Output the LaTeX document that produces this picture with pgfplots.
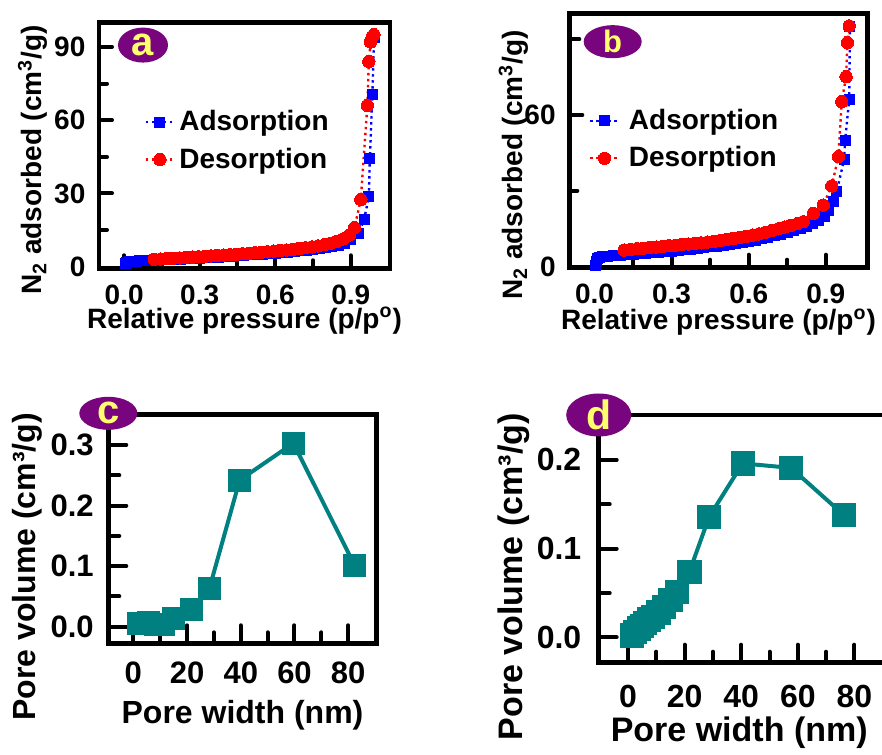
\documentclass[border=0pt]{standalone}
\usepackage{pgfplots}
\pgfplotsset{compat=1.18}
\usepackage{fontspec}
\setmainfont{Liberation Sans}
\definecolor{tealc}{RGB}{0,128,128}
\definecolor{lblpurple}{RGB}{120,5,125}
\definecolor{lblyellow}{RGB}{255,255,110}
\newcommand{\fs}[1]{\fontsize{#1}{#1}\selectfont\bfseries}
\tikzset{tk/.style={line width=2pt, black, line cap=round}}
\pgfplotsset{
  myaxis/.style={
    scale only axis, anchor=south west,
    axis line style={line width=2.4pt},
    major tick length=0pt, minor tick length=0pt,
    /pgf/number format/assume math mode=true,
    scaled ticks=false,
  },
  onedec/.style={/pgf/number format/fixed, /pgf/number format/fixed zerofill, /pgf/number format/precision=1},
  iso/.style={
    legend cell align=left,
    legend image code/.code={\draw[mark repeat=2,mark phase=2,##1] plot coordinates {(0cm,0cm) (0.25cm,0cm) (0.5cm,0cm)};},
    legend style={draw=none, fill=none, anchor=north west, inner sep=0pt, font=\fs{14}, row sep=3pt},
    xticklabel style={onedec},
    xtick={0,0.3,0.6,0.9},
    tick label style={font=\fs{14}},
    xticklabel style={yshift=-4.8pt},
    yticklabel style={xshift=-3.3pt},
    label style={font=\fs{14}},
    xlabel={Relative pressure (p/p\textsuperscript{o})},
    ylabel={N\textsubscript{2} adsorbed (cm\textsuperscript{3}/g)},
  },
  ads/.style={blue, line width=1.2pt, dash pattern=on 1.2pt off 1.8pt, mark=square*, mark size=2.5pt, mark options={solid, fill=blue, draw=blue, line width=0pt}},
  des/.style={red, line width=1.2pt, dash pattern=on 1.2pt off 1.8pt, mark=*, mark size=3.1pt, mark options={solid, fill=red, draw=red, line width=0pt}},
  psd/.style={tealc, line width=2pt, mark=square*, mark options={fill=tealc, draw=tealc, line width=0pt}},
}
\begin{document}
\begin{tikzpicture}
\useasboundingbox (0,0) rectangle (441pt,377pt);

% ---------------- (a)
\begin{axis}[myaxis, iso, name=A, at={(49.5pt,242.85pt)},
  width=145.5pt, height=122.8pt,
  xmin=-0.1, xmax=1.056, ymin=-0.65, ymax=99.9,
  ytick={0,30,60,90},
  xlabel style={at={(axis description cs:0.5,-0.244)}, anchor=base},
  ylabel style={at={(axis description cs:-0.196,0.441)}, anchor=base},
  legend style={at={(axis description cs:0.155,0.66)}},
]
% ticks (inside, bottom and left only)
\draw[tk] (axis cs:0,-0.65) -- ++(0pt,6.5pt);
\draw[tk] (axis cs:0.3,-0.65) -- ++(0pt,6.5pt);
\draw[tk] (axis cs:0.6,-0.65) -- ++(0pt,6.5pt);
\draw[tk] (axis cs:0.9,-0.65) -- ++(0pt,6.5pt);
\draw[tk] (axis cs:0.15,-0.65) -- ++(0pt,4pt);
\draw[tk] (axis cs:0.45,-0.65) -- ++(0pt,4pt);
\draw[tk] (axis cs:0.75,-0.65) -- ++(0pt,4pt);
\draw[tk] (axis cs:-0.1,30) -- ++(6.5pt,0pt);
\draw[tk] (axis cs:-0.1,60) -- ++(6.5pt,0pt);
\draw[tk] (axis cs:-0.1,90) -- ++(6.5pt,0pt);
\draw[tk] (axis cs:-0.1,15) -- ++(4pt,0pt);
\draw[tk] (axis cs:-0.1,45) -- ++(4pt,0pt);
\draw[tk] (axis cs:-0.1,75) -- ++(4pt,0pt);
\addplot[ads] coordinates {
(0.005,1.5)(0.01,1.8)(0.02,2.0)(0.03,2.1)(0.04,2.2)(0.05,2.3)(0.06,2.35)(0.07,2.4)(0.08,2.45)(0.09,2.5)
(0.10,2.6)(0.125,2.7)(0.15,2.8)(0.175,2.9)(0.20,3.0)(0.225,3.1)(0.25,3.25)(0.275,3.35)(0.30,3.5)
(0.325,3.65)(0.35,3.8)(0.375,3.95)(0.40,4.1)(0.425,4.25)(0.45,4.4)(0.475,4.6)(0.50,4.8)(0.525,5.0)
(0.55,5.2)(0.575,5.4)(0.60,5.6)(0.625,5.8)(0.65,6.0)(0.675,6.25)(0.70,6.5)(0.725,6.8)(0.75,7.1)
(0.775,7.4)(0.80,7.8)(0.825,8.3)(0.85,8.8)(0.875,9.7)(0.90,11.0)(0.93,13.5)(0.953,19.2)(0.972,28.8)
(0.976,44.4)(0.986,70.3)(0.993,94.0)};
\addlegendentry{Adsorption}
\addplot[des] coordinates {
(0.12,3.0)(0.145,3.15)(0.17,3.3)(0.195,3.45)(0.22,3.6)(0.245,3.75)(0.27,3.9)(0.295,4.05)(0.32,4.2)
(0.345,4.4)(0.37,4.55)(0.395,4.75)(0.42,4.9)(0.445,5.1)(0.47,5.3)(0.495,5.5)(0.52,5.7)(0.545,5.9)
(0.57,6.1)(0.595,6.35)(0.62,6.6)(0.645,6.85)(0.67,7.1)(0.695,7.4)(0.72,7.75)(0.745,8.1)(0.77,8.5)
(0.795,9.0)(0.82,9.6)(0.845,10.4)(0.87,11.4)(0.895,13.0)(0.915,16.0)(0.94,27.5)(0.966,66.0)
(0.972,84.0)(0.979,92.0)(0.985,94.0)(0.992,95.0)};
\addlegendentry{Desorption}
\end{axis}
\fill[lblpurple] ([shift={(22pt,-11.2pt)}]A.north west) ellipse [x radius=12.5pt, y radius=8.75pt];
\node[text=lblyellow, font=\fs{20}, inner sep=0pt] at ([shift={(22pt,-11.2pt)}]A.north west) {a};

% ---------------- (b)
\begin{axis}[myaxis, iso, name=B, at={(284.65pt,243.15pt)},
  width=149.2pt, height=127.2pt,
  xmin=-0.098, xmax=1.063, ymin=-0.5, ymax=100.3,
  ytick={0,60},
  xlabel style={at={(axis description cs:0.5,-0.244)}, anchor=base},
  ylabel style={at={(axis description cs:-0.156,0.404)}, anchor=base},
  legend style={at={(axis description cs:0.065,0.64)}, nodes={inner xsep=4.5pt}},
]
\draw[tk] (axis cs:0,-0.5) -- ++(0pt,6.5pt);
\draw[tk] (axis cs:0.3,-0.5) -- ++(0pt,6.5pt);
\draw[tk] (axis cs:0.6,-0.5) -- ++(0pt,6.5pt);
\draw[tk] (axis cs:0.9,-0.5) -- ++(0pt,6.5pt);
\draw[tk] (axis cs:0.15,-0.5) -- ++(0pt,4pt);
\draw[tk] (axis cs:0.45,-0.5) -- ++(0pt,4pt);
\draw[tk] (axis cs:0.75,-0.5) -- ++(0pt,4pt);
\draw[tk] (axis cs:-0.098,60) -- ++(6.5pt,0pt);
\draw[tk] (axis cs:-0.098,90) -- ++(5pt,0pt);
\draw[tk] (axis cs:-0.098,30) -- ++(4pt,0pt);
\addplot[ads] coordinates {
(0.003,0.5)(0.006,2.0)(0.01,3.0)(0.02,3.6)(0.03,3.9)(0.05,4.1)(0.075,4.3)(0.10,4.5)(0.125,4.7)
(0.15,4.9)(0.175,5.1)(0.2,5.3)(0.225,5.5)(0.25,5.7)(0.275,5.9)(0.3,6.1)(0.325,6.35)(0.35,6.6)
(0.375,6.85)(0.4,7.1)(0.425,7.4)(0.45,7.7)(0.475,8.0)(0.5,8.35)(0.525,8.7)(0.55,9.05)(0.575,9.45)
(0.6,9.9)(0.625,10.4)(0.65,10.9)(0.675,11.5)(0.7,12.1)(0.725,12.8)(0.75,13.5)(0.775,14.3)(0.8,15.1)
(0.825,16.0)(0.85,17.0)(0.87,18.2)(0.893,19.7)(0.91,22.0)(0.929,25.6)(0.942,29.6)(0.971,42.2)
(0.975,49.8)(0.991,66.2)(0.994,95.0)};
\addlegendentry{Adsorption}
\addplot[des] coordinates {
(0.115,6.5)(0.14,6.75)(0.165,7.0)(0.19,7.2)(0.215,7.45)(0.24,7.65)(0.265,7.9)(0.29,8.2)(0.315,8.4)
(0.34,8.65)(0.365,8.9)(0.39,9.1)(0.415,9.35)(0.44,9.65)(0.465,9.95)(0.49,10.3)(0.515,10.65)
(0.54,11.0)(0.565,11.45)(0.59,11.9)(0.615,12.4)(0.64,12.9)(0.665,13.5)(0.69,14.2)(0.715,14.9)
(0.74,15.6)(0.765,16.3)(0.79,17.0)(0.812,17.7)(0.851,21.0)(0.89,24.3)(0.923,31.9)(0.949,43.5)
(0.962,65.3)(0.979,75.2)(0.984,88.7)(0.991,95.3)};
\addlegendentry{Desorption}
\end{axis}
\fill[lblpurple] ([shift={(21.7pt,-14.2pt)}]B.north west) ellipse [x radius=14.5pt, y radius=8.25pt];
\node[text=lblyellow, font=\fs{15.5}, inner sep=0pt] at ([shift={(21.7pt,-14.2pt)}]B.north west) {b};

% ---------------- (c)
\begin{axis}[myaxis, name=C, at={(54.15pt,55.35pt)},
  width=134.2pt, height=114.5pt,
  xmin=-9.3, xmax=90.6, ymin=-0.0274, ymax=0.3507,
  xtick={0,20,40,60,80},
  ytick={0,0.1,0.2,0.3},
  yticklabel style={onedec},
  tick label style={font=\fs{15.5}},
  xticklabel style={yshift=-5.8pt},
  yticklabel style={xshift=-3.8pt},
  label style={font=\fs{16}},
  xlabel={Pore width (nm)},
  ylabel={Pore volume (cm³/g)},
  xlabel style={at={(axis description cs:0.5,-0.349)}, anchor=base},
  ylabel style={at={(axis description cs:-0.273,0.334)}, anchor=base},
]
\draw[tk] (axis cs:0,-0.0274) -- ++(0pt,9pt);
\draw[tk] (axis cs:20,-0.0274) -- ++(0pt,9pt);
\draw[tk] (axis cs:40,-0.0274) -- ++(0pt,9pt);
\draw[tk] (axis cs:60,-0.0274) -- ++(0pt,9pt);
\draw[tk] (axis cs:80,-0.0274) -- ++(0pt,9pt);
\draw[tk] (axis cs:10,-0.0274) -- ++(0pt,5.5pt);
\draw[tk] (axis cs:30,-0.0274) -- ++(0pt,5.5pt);
\draw[tk] (axis cs:50,-0.0274) -- ++(0pt,5.5pt);
\draw[tk] (axis cs:70,-0.0274) -- ++(0pt,5.5pt);
\draw[tk] (axis cs:-9.3,0) -- ++(9pt,0pt);
\draw[tk] (axis cs:-9.3,0.1) -- ++(9pt,0pt);
\draw[tk] (axis cs:-9.3,0.2) -- ++(9pt,0pt);
\draw[tk] (axis cs:-9.3,0.3) -- ++(9pt,0pt);
\draw[tk] (axis cs:-9.3,0.05) -- ++(5.5pt,0pt);
\draw[tk] (axis cs:-9.3,0.15) -- ++(5.5pt,0pt);
\draw[tk] (axis cs:-9.3,0.25) -- ++(5.5pt,0pt);
\addplot[psd, mark size=5.5pt] coordinates {
(1.9,0.006)(5.6,0.007)(8.3,0.003)(11.2,0.004)(14.9,0.013)(21.7,0.028)(28.3,0.063)
(39.6,0.242)(59.6,0.303)(82.4,0.101)};
\end{axis}
\fill[lblpurple] ([shift={(0pt,0.5pt)}]C.north west) ellipse [x radius=14.5pt, y radius=8.25pt];
\node[text=lblyellow, font=\fs{20}, inner sep=0pt] at ([shift={(0pt,0.5pt)}]C.north west) {c};

% ---------------- (d)
\begin{axis}[myaxis, name=D, at={(299.35pt,45.65pt)},
  width=144.85pt, height=123.85pt,
  xmin=-10.35, xmax=92, ymin=-0.0286, ymax=0.2506,
  xtick={0,20,40,60,80},
  ytick={0,0.1,0.2},
  yticklabel style={onedec},
  tick label style={font=\fs{16}},
  xticklabel style={yshift=-7.5pt},
  yticklabel style={xshift=-5.2pt},
  label style={font=\fs{17}},
  xlabel={Pore width (nm)},
  ylabel={Pore volume (cm³/g)},
  xlabel style={at={(axis description cs:0.485,-0.319)}, anchor=base},
  ylabel style={at={(axis description cs:-0.262,0.347)}, anchor=base},
]
\draw[tk] (axis cs:0,-0.0286) -- ++(0pt,9pt);
\draw[tk] (axis cs:20,-0.0286) -- ++(0pt,9pt);
\draw[tk] (axis cs:40,-0.0286) -- ++(0pt,9pt);
\draw[tk] (axis cs:60,-0.0286) -- ++(0pt,9pt);
\draw[tk] (axis cs:80,-0.0286) -- ++(0pt,9pt);
\draw[tk] (axis cs:10,-0.0286) -- ++(0pt,5.5pt);
\draw[tk] (axis cs:30,-0.0286) -- ++(0pt,5.5pt);
\draw[tk] (axis cs:50,-0.0286) -- ++(0pt,5.5pt);
\draw[tk] (axis cs:70,-0.0286) -- ++(0pt,5.5pt);
\draw[tk] (axis cs:-10.35,0) -- ++(9pt,0pt);
\draw[tk] (axis cs:-10.35,0.1) -- ++(9pt,0pt);
\draw[tk] (axis cs:-10.35,0.2) -- ++(9pt,0pt);
\draw[tk] (axis cs:-10.35,0.05) -- ++(5.5pt,0pt);
\draw[tk] (axis cs:-10.35,0.15) -- ++(5.5pt,0pt);
\addplot[psd, mark size=5.8pt] coordinates {
(1.5,0.002)(2.5,0.006)(4.0,0.010)(5.0,0.013)(6.0,0.0165)(7.4,0.020)(8.9,0.023)(10.8,0.028)
(12.7,0.0338)(15.0,0.042)(17.2,0.0507)(21.7,0.074)(28.7,0.136)(40.5,0.196)(57.6,0.191)(76.2,0.138)};
\end{axis}
\fill[lblpurple] (D.north west) ellipse [x radius=16.25pt, y radius=10.75pt];
\node[text=lblyellow, font=\fs{20.5}, inner sep=0pt] at (D.north west) {d};
\end{tikzpicture}
\end{document}
